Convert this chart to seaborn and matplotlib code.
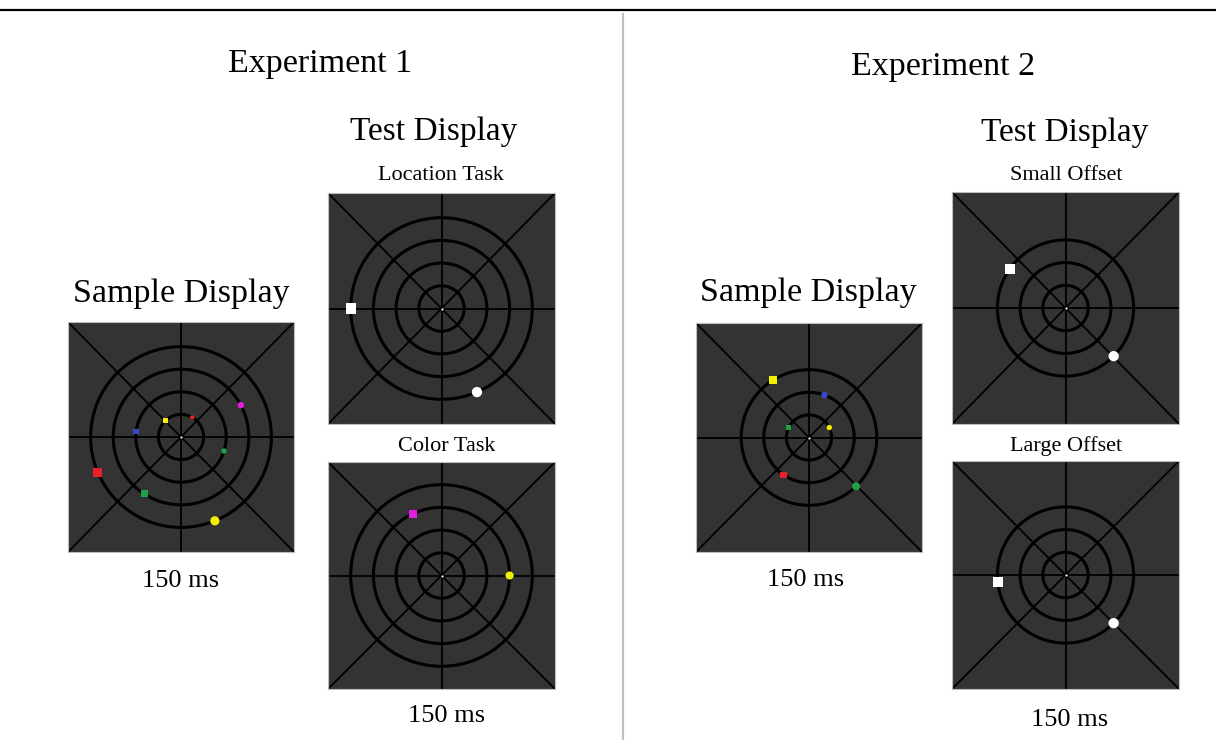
import numpy as np
import pandas as pd
import matplotlib
matplotlib.use("Agg")
import matplotlib.pyplot as plt
from matplotlib.patches import Circle
import seaborn as sns

sns.set_theme(style="white")
plt.rcParams['font.family'] = ['Liberation Serif', 'DejaVu Serif']

W, H = 1216, 740

# ---------------- data ----------------
panel_names = ["e1_sample", "e1_location", "e1_color", "e2_sample", "e2_small", "e2_large"]

ring_radii_e1 = [0.2, 0.4, 0.6, 0.8]
ring_radii_e2 = [0.2, 0.4, 0.6]

# Experiment 1 sample display
e1_sample_angle = [28, 60, 134, 173, -18, 203, 237, 292]
e1_sample_ring = [0.6, 0.2, 0.2, 0.4, 0.4, 0.8, 0.6, 0.8]
e1_sample_color = ["#e01ee0", "#e8202a", "#f2f000", "#3a46c8", "#1fa045", "#e8202a", "#1fa045", "#f2f000"]
e1_sample_shape = ["circle", "circle", "square", "square", "circle", "square", "square", "circle"]
e1_sample_size = [6, 4, 4.5, 5, 5, 8.5, 6.5, 8.5]

# Experiment 1 test: location task
e1_loc_angle = [180, 293]
e1_loc_ring = [0.8, 0.8]
e1_loc_color = ["#ffffff", "#ffffff"]
e1_loc_shape = ["square", "circle"]
e1_loc_size = [9.5, 9.5]

# Experiment 1 test: color task
e1_col_angle = [115, 0]
e1_col_ring = [0.6, 0.6]
e1_col_color = ["#e01ee0", "#f2f000"]
e1_col_shape = ["square", "circle"]
e1_col_size = [7.5, 7.5]

# Experiment 2 sample display
e2_sample_angle = [122, 70, 154, 26, 236, -46]
e2_sample_ring = [0.6, 0.4, 0.2, 0.2, 0.4, 0.6]
e2_sample_color = ["#f2f000", "#3a46c8", "#1fa045", "#f2f000", "#e8202a", "#1fa045"]
e2_sample_shape = ["square", "circle", "square", "circle", "square", "circle"]
e2_sample_size = [7.5, 6, 5, 5, 6, 7.5]

# Experiment 2 test: small offset
e2_small_angle = [145, -45]
e2_small_ring = [0.6, 0.6]
e2_small_color = ["#ffffff", "#ffffff"]
e2_small_shape = ["square", "circle"]
e2_small_size = [9.5, 9.5]

# Experiment 2 test: large offset
e2_large_angle = [186, -45]
e2_large_ring = [0.6, 0.6]
e2_large_color = ["#ffffff", "#ffffff"]
e2_large_shape = ["square", "circle"]
e2_large_size = [9.5, 9.5]

# ---------------- layout ----------------
# panel boxes in pixels: left, top, width, height
boxes = {
    "e1_sample": (68, 322, 226, 230),
    "e1_location": (328, 193, 227, 231),
    "e1_color": (328, 462, 227, 227),
    "e2_sample": (696, 323, 226, 229),
    "e2_small": (952, 192, 227, 232),
    "e2_large": (952, 461, 227, 228),
}

panels = {
    "e1_sample": (ring_radii_e1, e1_sample_angle, e1_sample_ring, e1_sample_color, e1_sample_shape, e1_sample_size),
    "e1_location": (ring_radii_e1, e1_loc_angle, e1_loc_ring, e1_loc_color, e1_loc_shape, e1_loc_size),
    "e1_color": (ring_radii_e1, e1_col_angle, e1_col_ring, e1_col_color, e1_col_shape, e1_col_size),
    "e2_sample": (ring_radii_e2, e2_sample_angle, e2_sample_ring, e2_sample_color, e2_sample_shape, e2_sample_size),
    "e2_small": (ring_radii_e2, e2_small_angle, e2_small_ring, e2_small_color, e2_small_shape, e2_small_size),
    "e2_large": (ring_radii_e2, e2_large_angle, e2_large_ring, e2_large_color, e2_large_shape, e2_large_size),
}

fig = plt.figure(figsize=(W / 100, H / 100), dpi=100)
fig.patch.set_facecolor("white")

# background axes in pixel coordinates
bg = fig.add_axes([0, 0, 1, 1])
bg.set_xlim(0, W)
bg.set_ylim(H, 0)
bg.axis("off")
bg.plot([0, W], [10, 10], color="black", lw=1.6, solid_capstyle="butt")
bg.plot([623, 623], [13, H], color="#c0c0c0", lw=1.6, solid_capstyle="butt")

texts = [
    ("Experiment 1", 320, 72, 24.5),
    ("Test Display", 434, 140, 24),
    ("Location Task", 441, 180, 16),
    ("Sample Display", 181, 302, 24.5),
    ("150 ms", 181, 587, 19),
    ("Color Task", 447, 451, 16),
    ("150 ms", 447, 722, 19),
    ("Experiment 2", 943, 75, 24.5),
    ("Test Display", 1065, 141, 24),
    ("Small Offset", 1066, 180, 16),
    ("Sample Display", 808, 301, 24.5),
    ("150 ms", 806, 586, 19),
    ("Large Offset", 1066, 451, 16),
    ("150 ms", 1070, 726, 19),
]
for t, x, y, fs in texts:
    bg.text(x, y, t, ha="center", va="baseline", fontsize=fs, color="black")

marker_map = {"square": "s", "circle": "o"}

for name in panel_names:
    l, t, w, h = boxes[name]
    ax = fig.add_axes([l / W, 1 - (t + h) / H, w / W, h / H])
    hr = h / w
    ax.set_xlim(-1, 1)
    ax.set_ylim(-hr, hr)
    ax.set_facecolor("#333333")
    ax.set_xticks([])
    ax.set_yticks([])
    for s in ax.spines.values():
        s.set_color("#bdbdbd")
        s.set_linewidth(0.8)

    rings, ang, rr, col, shp, sz = panels[name]
    # grid lines
    ax.axhline(0, color="black", lw=1.3)
    ax.axvline(0, color="black", lw=1.3)
    ax.plot([-1, 1], [-hr, hr], color="black", lw=1.3)
    ax.plot([-1, 1], [hr, -hr], color="black", lw=1.3)
    for r in rings:
        ax.add_patch(Circle((0, 0), r, fill=False, ec="black", lw=2.2))

    df = pd.DataFrame({
        "angle": ang, "ring": rr, "color": col, "shape": shp, "size": sz,
    })
    df["x"] = df["ring"] * np.cos(np.deg2rad(df["angle"]))
    df["y"] = df["ring"] * np.sin(np.deg2rad(df["angle"]))
    df["id"] = [f"{name}_{i}" for i in range(len(df))]
    palette = dict(zip(df["id"], df["color"]))
    sizes = {v: (v * 0.78) ** 2 for v in df["size"].unique()}
    sns.scatterplot(data=df, x="x", y="y", hue="id", palette=palette,
                    style="shape", markers=marker_map, size="size", sizes=sizes,
                    linewidth=0, legend=False, ax=ax, zorder=5)
    # fixation point
    ax.scatter([0], [0], s=2.5, color="white", zorder=6, linewidths=0)
    ax.set_xlabel("")
    ax.set_ylabel("")
    ax.set_xlim(-1, 1)
    ax.set_ylim(-hr, hr)

fig.savefig("out.png", dpi=100, facecolor="white")
